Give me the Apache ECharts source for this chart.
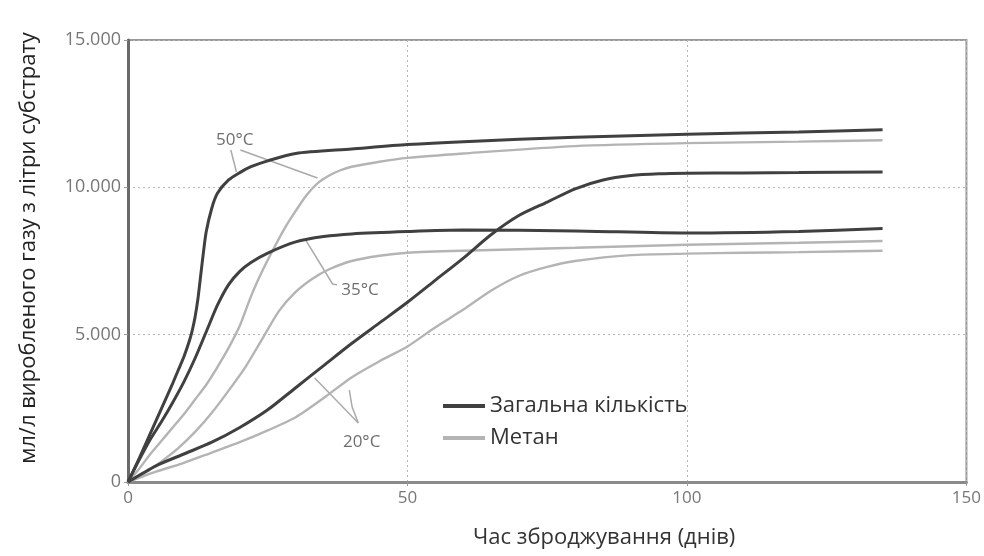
<!DOCTYPE html>
<html>
<head>
<meta charset="utf-8">
<script src="https://cdn.jsdelivr.net/npm/echarts@6/dist/echarts.min.js"></script>
<style>
  html, body { margin: 0; padding: 0; background: #fff; }
  #chart { width: 984px; height: 556px; }
</style>
</head>
<body>
<div id="chart"></div>
<script>
// дні та значення (мл/л)
var days50Total = [0, 2, 4, 6, 8, 9, 10, 11, 11.5, 12, 12.5, 13, 13.5, 14, 15, 16, 18, 20, 22, 25, 30, 40, 50, 60, 80, 100, 120, 135];
var total50 = [0, 800, 1650, 2500, 3350, 3800, 4250, 4800, 5150, 5600, 6200, 7000, 7800, 8500, 9300, 9800, 10250, 10500, 10700, 10900, 11150, 11300, 11450, 11550, 11700, 11800, 11880, 11950];

var days50Methane = [0, 2, 4, 6, 8, 10, 12, 14, 16, 18, 20, 22, 24, 26, 28, 30, 32, 34, 36, 38, 40, 45, 50, 60, 80, 100, 120, 135];
var methane50 = [0, 450, 950, 1400, 1850, 2300, 2800, 3300, 3900, 4550, 5300, 6300, 7150, 7900, 8600, 9200, 9750, 10150, 10400, 10580, 10700, 10870, 11000, 11150, 11400, 11500, 11550, 11600];

var days35Total = [0, 2, 4, 6, 8, 10, 12, 14, 16, 18, 20, 22, 25, 30, 35, 40, 50, 60, 80, 100, 120, 135];
var total35 = [0, 750, 1450, 2050, 2700, 3400, 4200, 5100, 6000, 6700, 7150, 7450, 7770, 8150, 8330, 8420, 8500, 8550, 8520, 8450, 8500, 8600];

var days35Methane = [0, 3, 6, 9, 12, 15, 18, 21, 24, 27, 30, 33, 36, 40, 45, 50, 60, 80, 100, 120, 135];
var methane35 = [0, 300, 700, 1150, 1700, 2350, 3100, 3900, 4850, 5800, 6450, 6900, 7220, 7500, 7680, 7780, 7850, 7950, 8050, 8120, 8180];

var days20Total = [0, 5, 10, 15, 20, 25, 30, 35, 40, 45, 50, 55, 60, 65, 70, 75, 80, 85, 90, 95, 100, 110, 120, 135];
var total20 = [0, 550, 950, 1350, 1850, 2450, 3200, 3950, 4700, 5400, 6100, 6850, 7600, 8400, 9050, 9500, 9950, 10250, 10400, 10460, 10480, 10490, 10500, 10520];

var days20Methane = [0, 5, 10, 15, 20, 25, 30, 35, 40, 45, 50, 55, 60, 65, 70, 75, 80, 90, 100, 110, 120, 135];
var methane20 = [0, 350, 650, 1000, 1350, 1750, 2200, 2850, 3550, 4100, 4600, 5250, 5850, 6500, 7000, 7300, 7500, 7700, 7750, 7780, 7800, 7850];

var xTicks = [0, 50, 100, 150];
var yTicks = [0, 5000, 10000, 15000];

// підписи температур і виноски (у координатах даних)
var tempLabels = [[19.1, 11600, "50°C"], [41.5, 6500, "35°C"], [41.8, 1350, "20°C"]];
var leaders = [
  [[18.4, 11266], [19.4, 10519]],
  [[20.1, 11266], [33.9, 10316]],
  [[31.8, 8212], [36.6, 6719], [37.4, 6690]],
  [[33.4, 3530], [41.2, 2002]],
  [[39.6, 3122], [40.1, 2545], [41.2, 2002]]
];

var NAME_TOTAL = "Загальна кількість";
var NAME_METHANE = "Метан";
var DARK = "#404040";
var LIGHT = "#b4b4b4";

function pairs(xs, ys) {
  return xs.map(function (x, i) { return [x, ys[i]]; });
}

function curve(name, xs, ys, color, width) {
  return {
    name: name,
    type: "line",
    data: pairs(xs, ys),
    smooth: 0.25,
    symbol: "none",
    lineStyle: { color: color, width: width },
    itemStyle: { color: color },
    z: width > 2.5 ? 3 : 2
  };
}

var myChart = echarts.init(document.getElementById("chart"));

var option = {
  animation: false,
  backgroundColor: "#fff",
  textStyle: { fontFamily: "Open Sans, DejaVu Sans, sans-serif" },
  grid: {
    left: 128,
    right: 7,
    top: 40,
    bottom: 74,
    show: true,
    borderColor: "#9a9a9a",
    borderWidth: 2
  },
  legend: {
    data: [NAME_TOTAL, NAME_METHANE],
    orient: "vertical",
    left: 438,
    top: 390,
    itemWidth: 42,
    itemHeight: 4,
    itemGap: 10,
    icon: "rect",
    textStyle: { fontSize: 22, color: "#333" }
  },
  xAxis: {
    type: "value",
    min: 0,
    max: 150,
    interval: 50,
    name: "Час зброджування (днів)",
    nameLocation: "middle",
    nameGap: 45,
    nameTextStyle: { fontSize: 22, color: "#333", padding: [0, 0, 0, 114] },
    axisLine: { lineStyle: { color: "#8a8a8a", width: 3 } },
    axisTick: { show: true, length: 4, lineStyle: { color: "#999" } },
    axisLabel: {
      fontSize: 17,
      color: "#777",
      margin: 8,
      formatter: function (v) { return xTicks.indexOf(v) >= 0 ? String(v) : ""; }
    },
    splitLine: { show: true, lineStyle: { color: "#b5b5b5", type: [2, 3], width: 1 } }
  },
  yAxis: {
    type: "value",
    min: 0,
    max: 15000,
    interval: 5000,
    name: "мл/л виробленого газу з літри субстрату",
    nameLocation: "middle",
    nameGap: 88,
    nameTextStyle: { fontSize: 22, color: "#222", padding: [0, 0, 0, 26] },
    axisLine: { show: true, lineStyle: { color: "#6a6a6a", width: 3 } },
    axisTick: { show: true, length: 4, lineStyle: { color: "#999" } },
    axisLabel: {
      fontSize: 18,
      color: "#777",
      margin: 7,
      formatter: function (v) {
        if (yTicks.indexOf(v) < 0) return "";
        return v === 0 ? "0" : String(v / 1000) + ".000";
      }
    },
    splitLine: { show: true, lineStyle: { color: "#b5b5b5", type: [2, 3], width: 1 } }
  },
  series: [
    curve(NAME_METHANE, days50Methane, methane50, LIGHT, 2.4),
    curve(NAME_METHANE, days35Methane, methane35, LIGHT, 2.4),
    curve(NAME_METHANE, days20Methane, methane20, LIGHT, 2.4),
    curve(NAME_TOTAL, days50Total, total50, DARK, 3),
    curve(NAME_TOTAL, days35Total, total35, DARK, 3),
    curve(NAME_TOTAL, days20Total, total20, DARK, 3),
    {
      name: "виноски",
      type: "lines",
      coordinateSystem: "cartesian2d",
      polyline: true,
      silent: true,
      lineStyle: { color: "#aaa", width: 1.5, opacity: 1 },
      data: leaders.map(function (c) { return { coords: c }; }),
      z: 1
    },
    {
      name: "температури",
      type: "scatter",
      symbolSize: 0,
      silent: true,
      data: tempLabels,
      label: {
        show: true,
        position: "inside",
        fontSize: 17,
        color: "#4a4a4a",
        formatter: function (p) { return p.value[2]; }
      }
    }
  ]
};

myChart.setOption(option);
</script>
</body>
</html>
